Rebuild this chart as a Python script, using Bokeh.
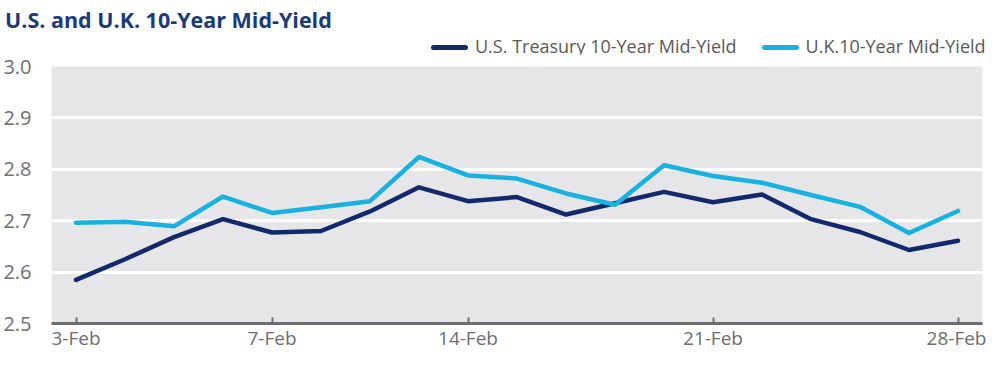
from bokeh.plotting import figure
from bokeh.layouts import column
from bokeh.models import Range1d, FixedTicker, Div
from bokeh.embed import file_html
from bokeh.resources import INLINE

title_text = "U.S. and U.K. 10-Year Mid-Yield"
series_names = ["U.S. Treasury 10-Year Mid-Yield", "U.K.10-Year Mid-Yield"]
day_index = list(range(19))
us_yield = [2.585, 2.625, 2.668, 2.703, 2.677, 2.680, 2.718, 2.765, 2.738, 2.746,
            2.712, 2.734, 2.756, 2.736, 2.751, 2.703, 2.678, 2.643, 2.661]
uk_yield = [2.696, 2.698, 2.689, 2.747, 2.715, 2.726, 2.738, 2.824, 2.788, 2.782,
            2.753, 2.731, 2.808, 2.787, 2.774, 2.750, 2.727, 2.676, 2.719]
tick_positions = [0, 4, 8, 13, 18]
tick_labels = ["3-Feb", "7-Feb", "14-Feb", "21-Feb", "28-Feb"]
y_ticks = [2.5, 2.6, 2.7, 2.8, 2.9, 3.0]

NAVY = "#14296b"
LIGHT = "#19b1df"
GREY_TXT = "#6d6e71"
W = 986
HEAD_H = 54
MAIN_H = 299
series_colors = [NAVY, LIGHT]

# ---------- header (title + legend) ----------
def swatch(color, gap_left):
    return (f'<span style="display:inline-block;width:37px;height:5px;border-radius:2.5px;'
            f'background:{color};vertical-align:middle;margin-right:7px;'
            f'margin-left:{gap_left}px;position:relative;top:-1px"></span>')

legend_html = "".join(swatch(c, 0 if i == 0 else 25) + n
                      for i, (c, n) in enumerate(zip(series_colors, series_names)))
header_html = (
    f'<div style="position:relative;width:{W}px;height:{HEAD_H}px;font-family:\'Open Sans\';">'
    f'<div style="position:absolute;left:5px;top:9px;font-size:21.5px;font-weight:bold;'
    f'color:#1b3a78;line-height:1;white-space:nowrap">{title_text}</div>'
    f'<div style="position:absolute;left:431px;top:37px;font-size:18px;color:#595959;'
    f'line-height:18px;white-space:nowrap">{legend_html}</div>'
    f'</div>'
)
header = Div(text=header_html, width=W, height=HEAD_H, margin=0)

# ---------- main chart ----------
p = figure(width=W, height=MAIN_H, output_backend="svg", toolbar_location=None,
           x_range=Range1d(-0.5, 18.5), y_range=Range1d(2.5, 3.0),
           min_border_left=49, min_border_right=4, min_border_top=12, min_border_bottom=24)
p.background_fill_color = "#e6e6e8"
p.border_fill_color = "white"
p.outline_line_color = None

p.xgrid.grid_line_color = None
p.ygrid.ticker = FixedTicker(ticks=y_ticks)
p.ygrid.grid_line_color = "white"
p.ygrid.grid_line_width = 3

p.xaxis.ticker = FixedTicker(ticks=tick_positions)
p.xaxis.major_label_overrides = {t: l for t, l in zip(tick_positions, tick_labels)}
p.xaxis.axis_line_color = GREY_TXT
p.xaxis.axis_line_width = 3
p.xaxis.major_tick_in = 6
p.xaxis.major_tick_out = 0
p.xaxis.major_tick_line_color = GREY_TXT
p.xaxis.major_tick_line_width = 2
p.xaxis.minor_tick_line_color = None
p.xaxis.major_label_text_font = "Open Sans"
p.xaxis.major_label_text_font_size = "19px"
p.xaxis.major_label_text_color = GREY_TXT
p.xaxis.major_label_standoff = 1

p.yaxis.ticker = FixedTicker(ticks=y_ticks)
p.yaxis.major_label_overrides = {t: f"{t:.1f}" for t in y_ticks}
p.yaxis.axis_line_color = None
p.yaxis.major_tick_line_color = None
p.yaxis.minor_tick_line_color = None
p.yaxis.major_label_text_font = "Open Sans"
p.yaxis.major_label_text_font_size = "20px"
p.yaxis.major_label_text_color = GREY_TXT
p.yaxis.major_label_standoff = 14

for ys, c in zip([us_yield, uk_yield], series_colors):
    p.line(day_index, ys, line_color=c, line_width=4.5,
           line_cap="round", line_join="round")

layout = column(header, p, spacing=0)
open("out.html", "w").write(file_html(layout, INLINE))
